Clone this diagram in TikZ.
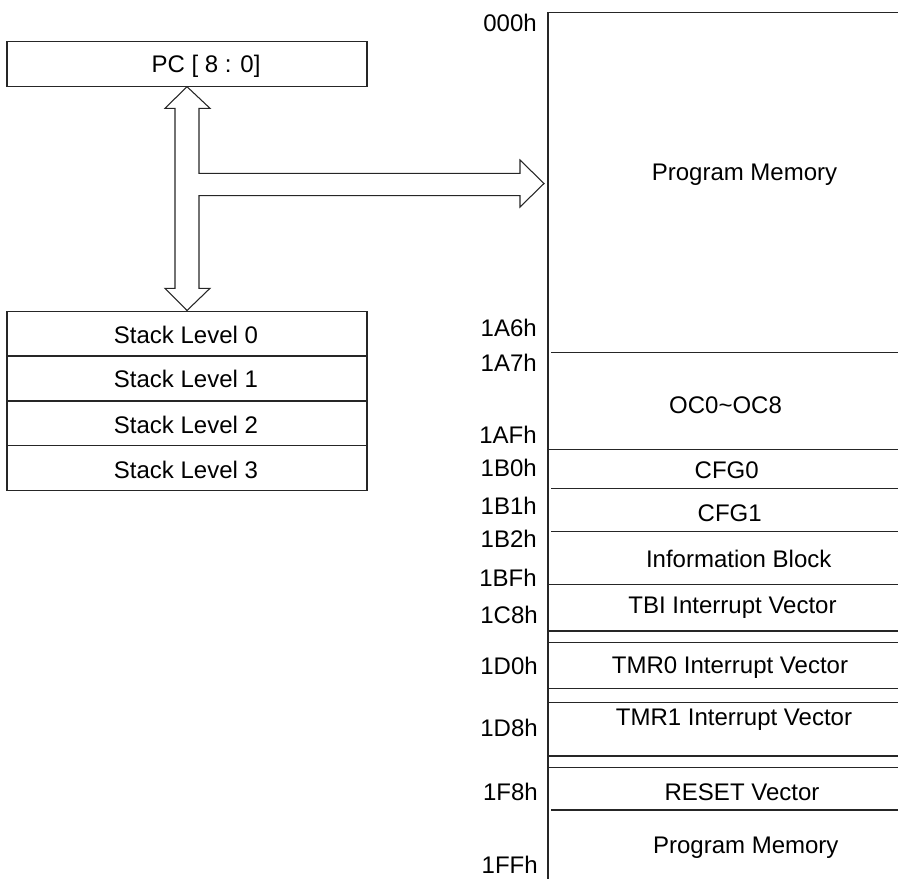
\documentclass[tikz,border=0pt]{standalone}
\usepackage{fontspec}
\setmainfont{Liberation Sans}
\begin{document}
\begin{tikzpicture}[x=0.75pt,y=-0.75pt,
  ln/.style={draw=black!85, line width=0.8pt},
  txt/.style={inner sep=0pt, text height=12.9pt, text depth=0pt, font=\fontsize{18pt}{21pt}\selectfont},
  addr/.style={txt, anchor=east}]
\useasboundingbox (0,0) rectangle (898,879);
% PC box
\draw[ln] (7,41.7) rectangle (367,86.7);
\node[txt] (pc) at (206,63.8) {PC [ 8 : 0]};
% stack box
\draw[ln] (7,311.7) rectangle (367,490.7);
\draw[ln] (7,356) -- (367,356);
\draw[ln] (7,401) -- (367,401);
\draw[ln] (7,445.7) -- (367,445.7);
\node[txt] (s0) at (186,335) {Stack Level 0};
\node[txt] (s1) at (186,378.7) {Stack Level 1};
\node[txt] (s2) at (186,425) {Stack Level 2};
\node[txt] (s3) at (186,470) {Stack Level 3};
% bus arrow
\draw[ln, line join=miter] (187,86.7) -- (210,108.3) -- (199,108.3) -- (199,173.3)
  -- (520,173.3) -- (520,160) -- (544,183.5) -- (520,207) -- (520,195.7)
  -- (199,195.7) -- (199,288.3) -- (210,288.3) -- (187,310.5) -- (165,288.3)
  -- (175,288.3) -- (175,108.3) -- (165,108.3) -- cycle;
% memory map
\draw[ln] (898,12.7) -- (548,12.7) -- (548,879);
\foreach \yy/\xx in {352.5/551, 449.3/548, 488.7/551, 531.3/551, 584.3/548,
  631/548, 642.3/548, 688.3/548, 702.3/548, 756/548, 767.3/548, 810/551}
  \draw[ln] (\xx,\yy) -- (898,\yy);
% memory texts
\node[txt] (pm1) at (744.5,171.5) {Program Memory};
\node[txt] (oc) at (725.5,405.3) {OC0\char`~OC8};
\node[txt] (cfg0) at (726.7,470) {CFG0};
\node[txt] (cfg1) at (729.7,512.8) {CFG1};
\node[txt] (info) at (738.7,558.7) {Information Block};
\node[txt] (tbi) at (732.5,604.5) {TBI Interrupt Vector};
\node[txt] (tmr0) at (730,665.3) {TMR0 Interrupt Vector};
\node[txt] (tmr1) at (734,717) {TMR1 Interrupt Vector};
\node[txt] (rst) at (742,791.7) {RESET Vector};
\node[txt] (pm2) at (745.8,845) {Program Memory};
% addresses
\node[addr] (a000) at (537,23.3) {000h};
\node[addr] (a1a6) at (537,328) {1A6h};
\node[addr] (a1a7) at (537,362.8) {1A7h};
\node[addr] (a1af) at (537,434.7) {1AFh};
\node[addr] (a1b0) at (537,467.5) {1B0h};
\node[addr] (a1b1) at (537,506) {1B1h};
\node[addr] (a1b2) at (537,538.7) {1B2h};
\node[addr] (a1bf) at (537,578) {1BFh};
\node[addr] (a1c8) at (538,615.3) {1C8h};
\node[addr] (a1d0) at (538,666) {1D0h};
\node[addr] (a1d8) at (538,728) {1D8h};
\node[addr] (a1f8) at (538,792) {1F8h};
\node[addr] (a1ff) at (538,865.3) {1FFh};
\end{tikzpicture}
\end{document}
